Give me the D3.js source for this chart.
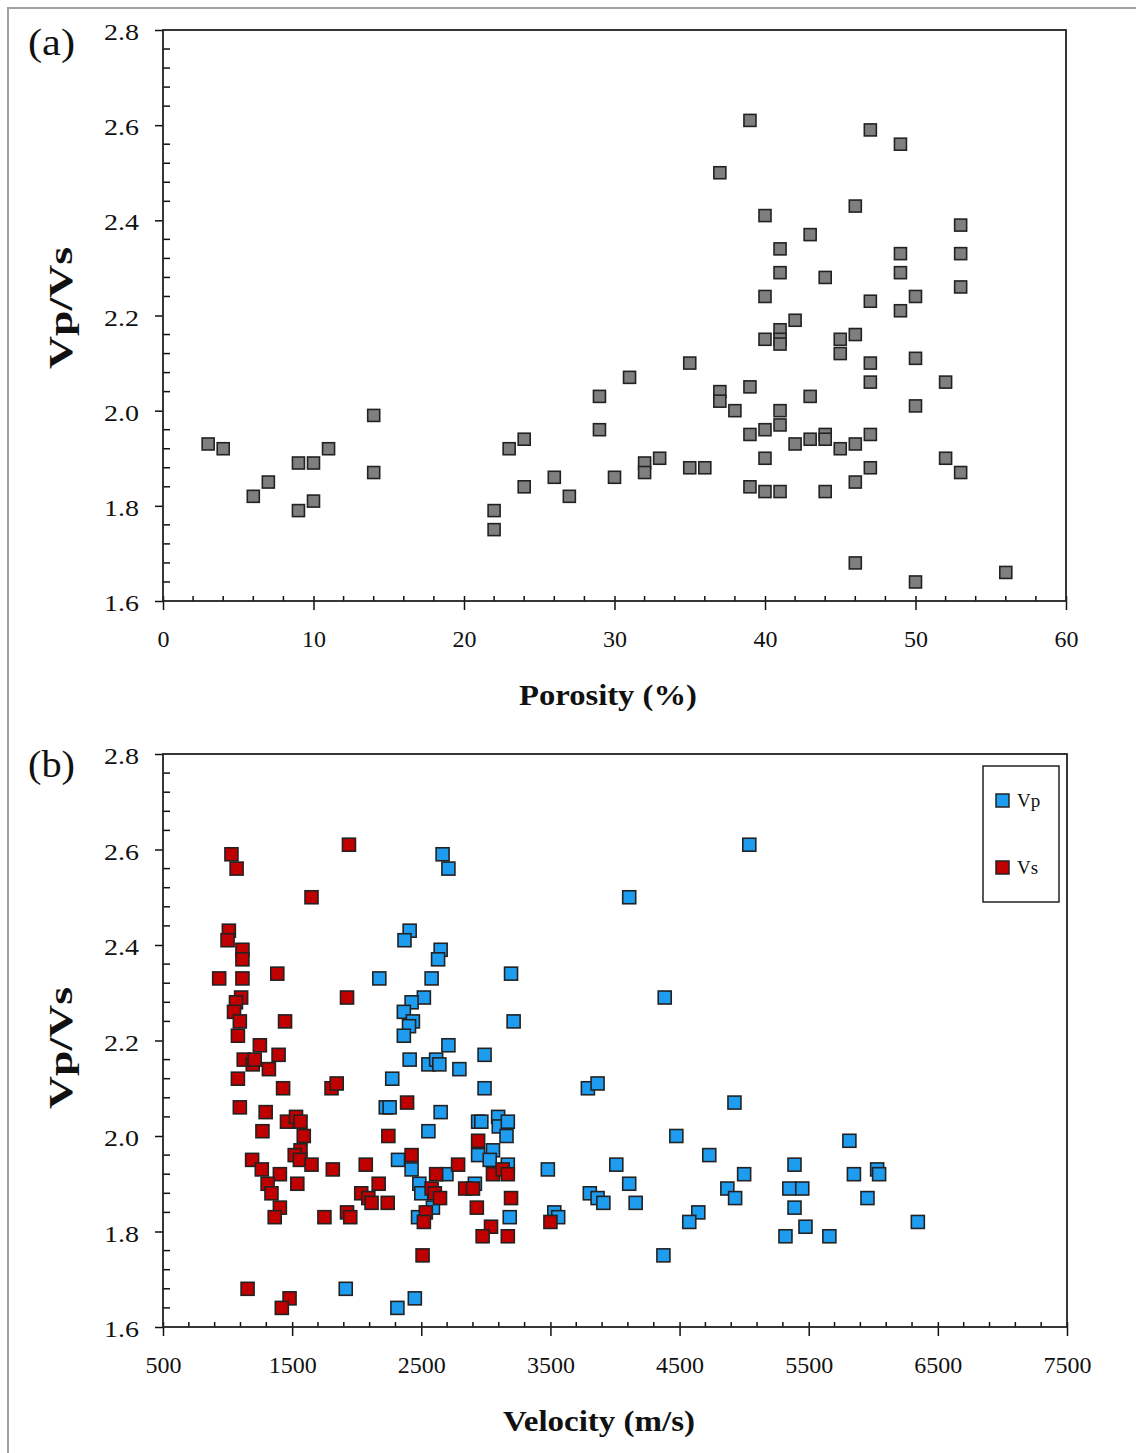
<!DOCTYPE html>
<html>
<head>
<meta charset="utf-8">
<script src="https://cdn.jsdelivr.net/npm/d3@7"></script>
<style>
  body { margin: 0; background: #fff; }
  text { font-family: "Liberation Serif", "DejaVu Serif", serif; fill: #111; }
</style>
</head>
<body>
<div id="chart"></div>
<script>
// panel (a): porosity vs Vp/Vs
const porosity = [3, 4, 6, 7, 9, 9, 10, 10, 11, 14, 14, 22, 22, 23, 24, 24, 26, 27, 29, 29, 30, 31, 32, 32, 33,
  35, 35, 36, 37, 37, 37, 38, 39, 39, 39, 39, 40, 40, 40, 40, 40, 40, 41, 41, 41, 41, 41, 41, 41, 41,
  42, 42, 43, 43, 43, 44, 44, 44, 44, 45, 45, 45, 46, 46, 46, 46, 46, 47, 47, 47, 47, 47, 47,
  49, 49, 49, 49, 50, 50, 50, 50, 52, 52, 53, 53, 53, 53, 56]
const ratioA = [1.93, 1.92, 1.82, 1.85, 1.89, 1.79, 1.89, 1.81, 1.92, 1.99, 1.87, 1.79, 1.75, 1.92, 1.94, 1.84, 1.86, 1.82, 2.03, 1.96, 1.86, 2.07, 1.89, 1.87, 1.90,
  2.10, 1.88, 1.88, 2.50, 2.04, 2.02, 2.00, 2.61, 2.05, 1.95, 1.84, 2.41, 2.24, 2.15, 1.96, 1.90, 1.83, 2.34, 2.29, 2.17, 2.15, 2.14, 2.00, 1.97, 1.83,
  2.19, 1.93, 2.37, 2.03, 1.94, 2.28, 1.95, 1.94, 1.83, 2.15, 2.12, 1.92, 2.43, 2.16, 1.93, 1.85, 1.68, 2.59, 2.23, 2.10, 2.06, 1.95, 1.88,
  2.56, 2.33, 2.29, 2.21, 2.24, 2.11, 2.01, 1.64, 2.06, 1.90, 2.39, 2.33, 2.26, 1.87, 1.66]

// panel (b): velocity vs Vp/Vs
const vpVel = [2665, 2710, 5040, 4110, 2410, 2370, 2650, 2630, 2175, 2580, 3195, 4385, 2520, 2425, 2365, 2435, 2405, 3215, 2365, 2710,
  2990, 2410, 2555, 2615, 2640, 2795, 2275, 2990, 3790, 3865, 2225, 2255, 2650, 4925, 2940, 2965, 3095, 3100, 3170, 2555,
  3160, 4475, 5815, 2940, 3055, 3030, 2320, 4730, 2425, 3170, 3480, 4010, 5390, 2695, 5000, 5850, 6030, 6045, 2485, 2500,
  2915, 4110, 3805, 3865, 3910, 4160, 4870, 4930, 5350, 5450, 5955, 2590, 5390, 2475, 3185, 3530, 3560, 4645, 4575, 6345,
  5475, 5320, 5660, 4375, 1915, 2450, 2315]
const vpRatio = [2.59, 2.56, 2.61, 2.50, 2.43, 2.41, 2.39, 2.37, 2.33, 2.33, 2.34, 2.29, 2.29, 2.28, 2.26, 2.24, 2.23, 2.24, 2.21, 2.19,
  2.17, 2.16, 2.15, 2.16, 2.15, 2.14, 2.12, 2.10, 2.10, 2.11, 2.06, 2.06, 2.05, 2.07, 2.03, 2.03, 2.04, 2.02, 2.03, 2.01,
  2.00, 2.00, 1.99, 1.96, 1.97, 1.95, 1.95, 1.96, 1.93, 1.94, 1.93, 1.94, 1.94, 1.92, 1.92, 1.92, 1.93, 1.92, 1.90, 1.88,
  1.90, 1.90, 1.88, 1.87, 1.86, 1.86, 1.89, 1.87, 1.89, 1.89, 1.87, 1.85, 1.85, 1.83, 1.83, 1.84, 1.83, 1.84, 1.82, 1.82,
  1.81, 1.79, 1.79, 1.75, 1.68, 1.66, 1.64]
const vsVel = [1030, 1070, 1940, 1650, 1010, 1000, 1115, 1115, 935, 1115, 1385, 1925, 1105, 1065, 1050, 1095, 1445, 1080, 1250, 1395,
  1125, 1195, 1210, 1320, 1080, 1430, 1805, 1845, 1095, 2390, 1295, 1460, 1530, 1565, 1270, 1590, 2245, 2940, 1565, 1520,
  1560, 1190, 1650, 1815, 2070, 2425, 2785, 1265, 1405, 1310, 1540, 2170, 2615, 3055, 3130, 3170, 1340, 2035, 2090, 2115,
  2240, 2580, 2605, 2645, 2840, 2900, 3195, 1405, 2930, 1365, 1750, 1925, 1950, 2535, 2520, 3040, 2975, 3170, 3500, 2510,
  1155, 1480, 1420]
const vsRatio = [2.59, 2.56, 2.61, 2.50, 2.43, 2.41, 2.39, 2.37, 2.33, 2.33, 2.34, 2.29, 2.29, 2.28, 2.26, 2.24, 2.24, 2.21, 2.19, 2.17,
  2.16, 2.15, 2.16, 2.14, 2.12, 2.10, 2.10, 2.11, 2.06, 2.07, 2.05, 2.03, 2.04, 2.03, 2.01, 2.00, 2.00, 1.99, 1.97, 1.96,
  1.95, 1.95, 1.94, 1.93, 1.94, 1.96, 1.94, 1.93, 1.92, 1.90, 1.90, 1.90, 1.92, 1.92, 1.93, 1.92, 1.88, 1.88, 1.87, 1.86,
  1.86, 1.89, 1.88, 1.87, 1.89, 1.89, 1.87, 1.85, 1.85, 1.83, 1.83, 1.84, 1.83, 1.84, 1.82, 1.81, 1.79, 1.79, 1.82, 1.75,
  1.68, 1.66, 1.64]

const yTicks = [1.6, 1.8, 2.0, 2.2, 2.4, 2.6, 2.8]
const xTicksA = [0, 10, 20, 30, 40, 50, 60]
const xTicksB = [500, 1500, 2500, 3500, 4500, 5500, 6500, 7500]

const svg = d3.select('#chart')
  .append('svg')
  .attr('width', 1136)
  .attr('height', 1453)

// outer frame of the figure (right and bottom edges fall outside the picture)
svg.append('rect')
  .attr('x', 8).attr('y', 8)
  .attr('width', 1160).attr('height', 1470)
  .attr('fill', 'none')
  .attr('stroke', '#a0a0a0')
  .attr('stroke-width', 2)

const fmtY = d3.format('.1f')

const drawPanel = (opt) => {
  const { left, top, right, bottom, xDomain, xTicks, xMinor, label, labelY, xTitle, xTitleX, xTitleLen, yTitleY } = opt
  const x = d3.scaleLinear().domain(xDomain).range([left, right])
  const y = d3.scaleLinear().domain([1.6, 2.8]).range([bottom, top])
  const g = svg.append('g')

  // minor ticks (inward)
  const yMinor = d3.range(1.6, 2.8001, 0.04).filter(v => Math.abs(v * 5 - Math.round(v * 5)) > 0.01)
  g.selectAll('.ymin').data(yMinor).enter().append('line')
    .attr('x1', left).attr('x2', left + 7)
    .attr('y1', d => y(d)).attr('y2', d => y(d))
    .attr('stroke', '#111').attr('stroke-width', 1.5)
  g.selectAll('.xmin').data(xMinor).enter().append('line')
    .attr('x1', d => x(d)).attr('x2', d => x(d))
    .attr('y1', bottom - 5).attr('y2', bottom)
    .attr('stroke', '#111').attr('stroke-width', 1.5)

  // y axis
  const yAxis = g.append('g')
    .attr('transform', 'translate(' + left + ',0)')
    .call(d3.axisLeft(y).tickValues(yTicks).tickFormat(fmtY).tickSize(8).tickPadding(16))
  // x axis
  const xAxis = g.append('g')
    .attr('transform', 'translate(0,' + bottom + ')')
    .call(d3.axisBottom(x).tickValues(xTicks).tickFormat(d3.format('d')).tickSize(9).tickPadding(20))
  xAxis.selectAll('.tick line').attr('y1', -5)
  ;[yAxis, xAxis].forEach(a => {
    a.select('.domain').remove()
    a.selectAll('line').attr('stroke', '#111').attr('stroke-width', 1.5)
    a.selectAll('text')
      .style('font-family', '"Liberation Serif", serif')
      .style('font-size', '24px')
      .attr('fill', '#111')
  })
  yAxis.selectAll('text')
    .attr('dy', '0.4em')
    .attr('textLength', 35)
    .attr('lengthAdjust', 'spacingAndGlyphs')

  // plot frame
  g.append('rect')
    .attr('x', left).attr('y', top)
    .attr('width', right - left).attr('height', bottom - top)
    .attr('fill', 'none')
    .attr('stroke', '#222')
    .attr('stroke-width', 1.8)

  // panel label
  svg.append('text')
    .attr('x', 28).attr('y', labelY)
    .attr('textLength', 47)
    .attr('lengthAdjust', 'spacingAndGlyphs')
    .style('font-size', '38px')
    .text(label)

  // axis titles
  svg.append('text')
    .attr('transform', 'translate(72,' + yTitleY + ') rotate(-90)')
    .attr('text-anchor', 'middle')
    .attr('textLength', 122)
    .attr('lengthAdjust', 'spacingAndGlyphs')
    .style('font-size', '34px')
    .style('font-weight', 'bold')
    .text('Vp/Vs')
  svg.append('text')
    .attr('x', xTitleX).attr('y', bottom + 104)
    .attr('text-anchor', 'middle')
    .attr('textLength', xTitleLen)
    .attr('lengthAdjust', 'spacingAndGlyphs')
    .style('font-size', '30px')
    .style('font-weight', 'bold')
    .text(xTitle)

  return { x, y, g }
}

const marker = (g, xs, ys, x, y, size, fill) => {
  g.selectAll(null)
    .data(xs.map((v, i) => [v, ys[i]]))
    .enter().append('rect')
    .attr('x', d => x(d[0]) - size / 2)
    .attr('y', d => y(d[1]) - size / 2)
    .attr('width', size).attr('height', size)
    .attr('fill', fill)
    .attr('stroke', '#222')
    .attr('stroke-width', 1.6)
}

// ---- (a)
const pa = drawPanel({
  left: 163, top: 30, right: 1066, bottom: 601,
  xDomain: [0, 60], xTicks: xTicksA,
  xMinor: d3.range(2, 60, 2).filter(v => v % 10 !== 0),
  label: '(a)', labelY: 55, xTitle: 'Porosity (%)', xTitleX: 608, xTitleLen: 178, yTitleY: 308
})
marker(pa.g, porosity, ratioA, pa.x, pa.y, 12, '#7f7f7f')

// ---- (b)
const pb = drawPanel({
  left: 163, top: 754, right: 1067, bottom: 1327,
  xDomain: [500, 7500], xTicks: xTicksB,
  xMinor: d3.range(700, 7500, 200).filter(v => (v - 500) % 1000 !== 0),
  label: '(b)', labelY: 777, xTitle: 'Velocity (m/s)', xTitleX: 599, xTitleLen: 192, yTitleY: 1048
})
marker(pb.g, vpVel, vpRatio, pb.x, pb.y, 13, '#1e9cf0')
marker(pb.g, vsVel, vsRatio, pb.x, pb.y, 13, '#c00000')

// legend
const leg = svg.append('g').attr('transform', 'translate(983,766)')
leg.append('rect')
  .attr('width', 76).attr('height', 136)
  .attr('fill', '#fff')
  .attr('stroke', '#222')
  .attr('stroke-width', 1.5)
const legItems = [['Vp', '#1e9cf0'], ['Vs', '#c00000']]
legItems.forEach(([name, col], i) => {
  leg.append('rect')
    .attr('x', 13).attr('y', 28 + i * 67)
    .attr('width', 13).attr('height', 13)
    .attr('fill', col)
    .attr('stroke', '#222')
    .attr('stroke-width', 1.5)
  leg.append('text')
    .attr('x', 34).attr('y', 41 + i * 67)
    .style('font-size', '19px')
    .text(name)
})
</script>
</body>
</html>
